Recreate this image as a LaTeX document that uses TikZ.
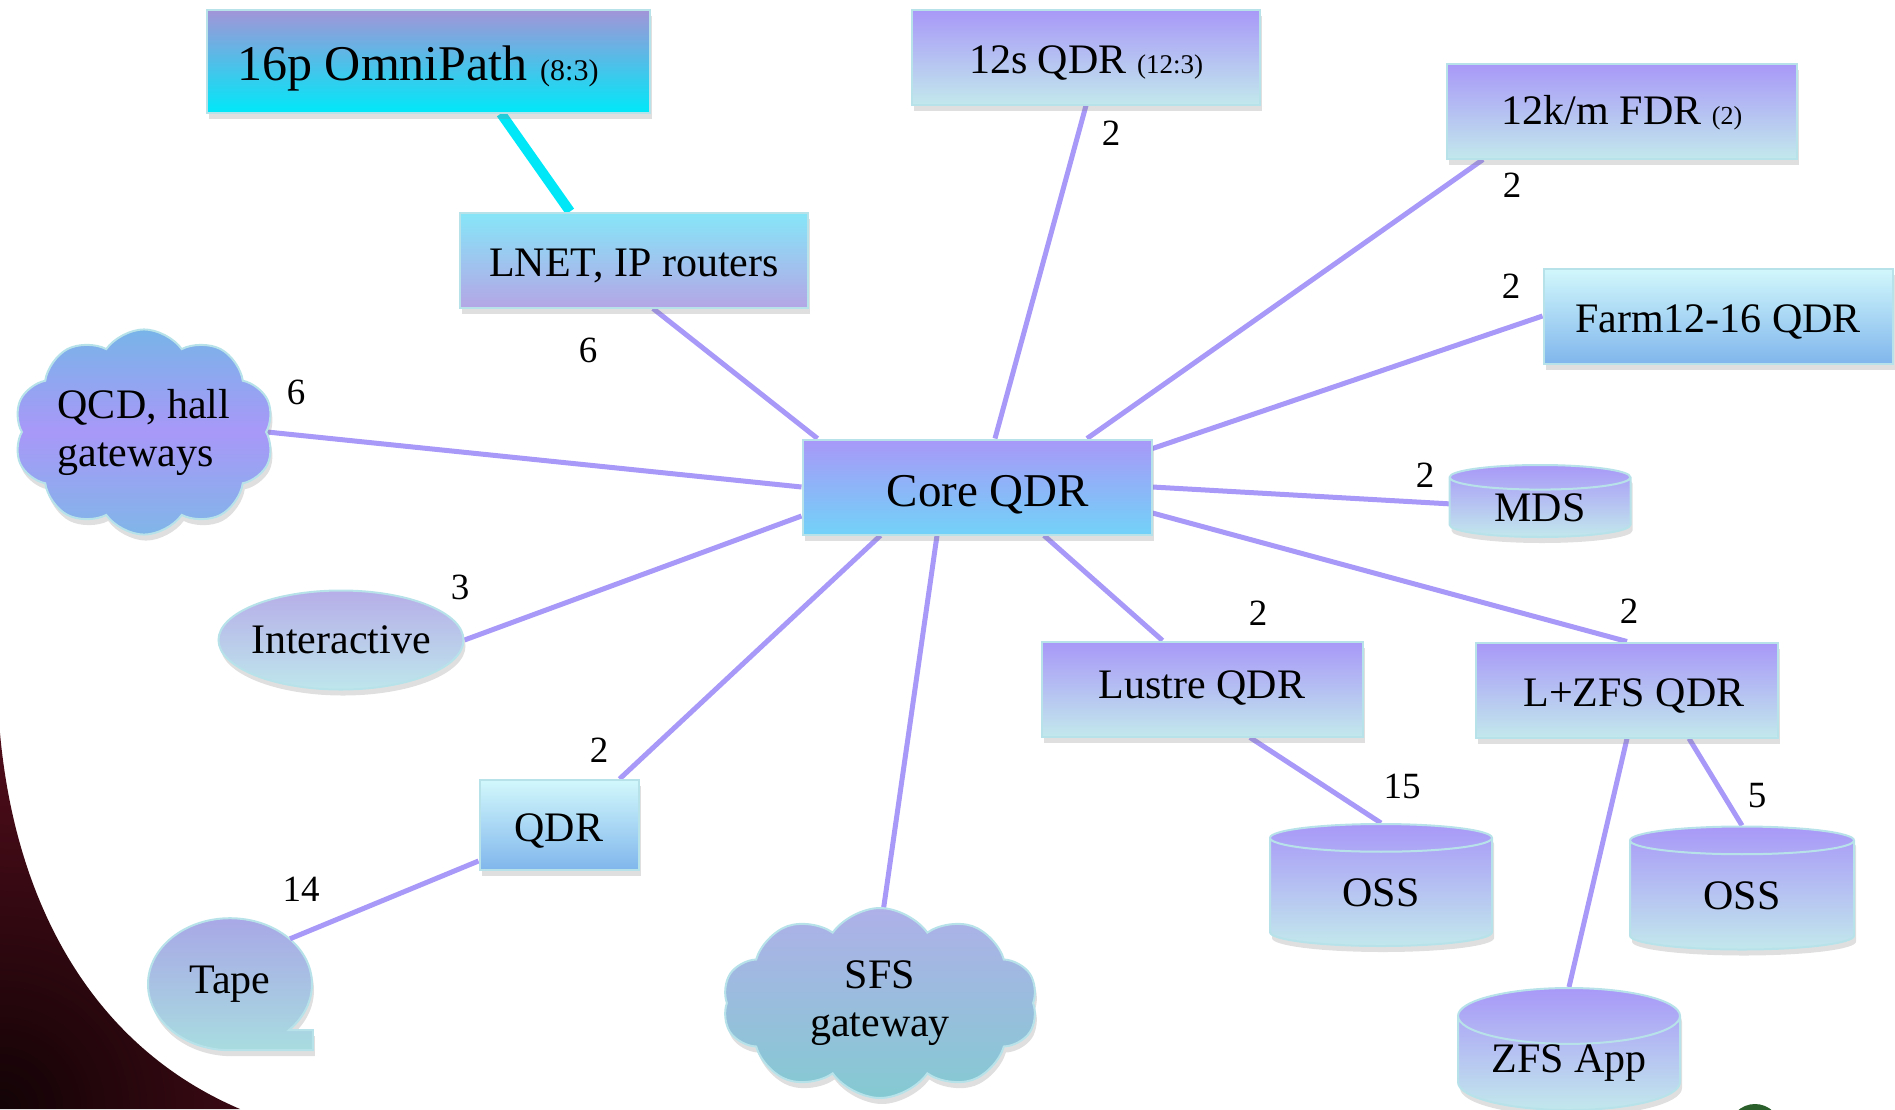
\documentclass[tikz,border=0pt]{standalone}
\usepackage{fontspec}
\setmainfont{Liberation Serif}
\usetikzlibrary{shapes.geometric,shapes.symbols,shadows,backgrounds}

\definecolor{lav}{HTML}{A898F8}
\definecolor{pale}{HTML}{C2E8EC}
\definecolor{sky}{HTML}{72D2F8}
\definecolor{edge}{HTML}{B8E2EA}
\definecolor{aqua}{HTML}{00E8F8}
\definecolor{mauve}{HTML}{A394D8}
\definecolor{ice}{HTML}{D2F8FC}
\definecolor{blu}{HTML}{80B6EC}
\definecolor{maroon}{HTML}{621020}
\definecolor{lnettop}{HTML}{86E6F8}
\definecolor{lnetbot}{HTML}{B4A6E6}
\definecolor{intertop}{HTML}{B6AEE8}
\definecolor{interbot}{HTML}{BEE6EC}
\definecolor{qcdtop}{HTML}{78B4E8}
\definecolor{qcdbot}{HTML}{80B6E8}
\definecolor{sfstop}{HTML}{AEB0E8}
\definecolor{sfsbot}{HTML}{84CAD2}
\definecolor{tapetop}{HTML}{A8A8E6}
\definecolor{tapebot}{HTML}{A8DCE0}
\definecolor{leaf}{HTML}{2A5E2A}
\definecolor{soot}{HTML}{120306}

\begin{document}
\begin{tikzpicture}[x=1pt,y=-1pt,
  every node/.style={font=\fontsize{42}{48}\selectfont},
  box/.style 2 args={rectangle,draw=edge,line width=2pt,top color=#1,bottom color=#2,
    minimum height=95pt,inner ysep=0pt,text height=33pt,text depth=0pt,
    drop shadow={opacity=.25,shadow xshift=2pt,shadow yshift=-6pt}},
  disk/.style={cylinder,shape border rotate=90,aspect=#1,draw=edge,line width=2pt,
    top color=lav,bottom color=pale,inner sep=0pt,anchor=shape center,
    drop shadow={opacity=.25,shadow xshift=2pt,shadow yshift=-6pt}},
  cloudy/.style={cloud,cloud puffs=10,cloud puff arc=110,draw=edge,line width=2pt,
    inner sep=0pt,drop shadow={opacity=.25,shadow xshift=2pt,shadow yshift=-6pt}},
  num/.style={font=\fontsize{37}{37}\selectfont},
  link/.style={draw=lav,line width=5pt},
  omnilink/.style={draw=aqua,line width=10pt}]
\useasboundingbox (0,0) rectangle (1895,1109);
\clip (0,0) rectangle (1895,1109);

% switches
\node[box={mauve}{aqua},minimum width=443pt,minimum height=103pt,text height=39pt,
  font=\fontsize{50}{55}\selectfont] (omni) at (428,61)
  {16p OmniPath {\fontsize{30}{30}\selectfont(8:3)}\hspace*{20pt}};
\node[box={lnettop}{lnetbot},minimum width=348pt] (lnet) at (634,260) {LNET, IP routers};
\node[box={lav}{pale},minimum width=348pt] (q12s) at (1086,57)
  {12s QDR {\fontsize{27}{27}\selectfont(12:3)}};
\node[box={lav}{pale},minimum width=350pt,text height=26pt] (fdr) at (1622,111)
  {12k/m FDR {\fontsize{26}{26}\selectfont(2)}};
\node[box={ice}{blu},minimum width=349pt] (farm) at (1718,316) {Farm12-16 QDR};
\node[box={lav}{sky},minimum width=349pt,text height=38pt,font=\fontsize{47}{52}\selectfont] (core) at (977,487)
  {\hspace*{22pt}Core QDR};
\node[box={lav}{pale},minimum width=321pt,text height=18pt] (lustre) at (1202,689) {Lustre QDR};
\node[box={lav}{pale},minimum width=302pt] (lzfs) at (1627,690) {\hspace*{14pt}L+ZFS QDR};
\node[box={ice}{blu},minimum width=159pt,minimum height=90pt] (qdr) at (559,825) {QDR};

% storage
\node[disk=.27,minimum width=181pt,minimum height=72pt] (mds) at (1540,501) {MDS};
\node[disk=.36,minimum width=222pt,minimum height=122pt] (ossa) at (1381,885) {OSS};
\node[disk=.36,minimum width=224pt,minimum height=123pt] (ossb) at (1742,888) {OSS};
\node[disk=.36,minimum width=222pt,minimum height=122pt] (zfs) at (1569,1049) {ZFS App};

% clients
\node[ellipse,draw=edge,line width=2pt,top color=intertop,bottom color=interbot,
  minimum width=245pt,minimum height=99pt,inner sep=0pt,inner xsep=-4pt,
  drop shadow={opacity=.25,shadow xshift=2pt,shadow yshift=-6pt}] (inter) at (341,640) {Interactive};
\node[cloudy,aspect=1.4,top color=qcdtop,bottom color=qcdbot,middle color=lav,
  minimum width=252pt,minimum height=185pt,align=left] (qcd) at (144,432) {QCD, hall\\gateways};
\node[cloudy,aspect=1.6,top color=sfstop,bottom color=sfsbot,
  minimum width=315pt,minimum height=190pt,align=center] (sfs) at (880,1003) {SFS\\gateway};
\node[ellipse,minimum width=164pt,minimum height=132pt,inner sep=0pt] (tape) at (230,984) {Tape};

% link counts
\node[num] (n1) at (588,350) {6};
\node[num] (n2) at (296,392) {6};
\node[num] (n3) at (1111,133) {2};
\node[num] (n4) at (1512,185) {2};
\node[num] (n5) at (1511,286) {2};
\node[num] (n6) at (1425,475) {2};
\node[num] (n7) at (460,587) {3};
\node[num] (n8) at (1258,613) {2};
\node[num] (n9) at (1629,611) {2};
\node[num] (n10) at (599,750) {2};
\node[num] (n11) at (1402,786) {15};
\node[num] (n12) at (1757,796) {5};
\node[num] (n13) at (301,889) {14};

\fill[leaf] (1755,1130) circle[radius=26];

\begin{scope}[on background layer]
\begin{scope}
\clip (0,733) .. controls (15,900) and (90,1045) .. (240,1109) -- (0,1109) -- cycle;
\shade[inner color=soot,outer color=maroon] (0,1109) circle[radius=480];
\end{scope}
\shadedraw[draw=edge,line width=2pt,top color=tapetop,bottom color=tapebot,
  drop shadow={opacity=.25,shadow xshift=2pt,shadow yshift=-6pt}]
  (tape.south) arc[start angle=90,end angle=404,x radius=82,y radius=66]
  -- ++(24,0) -- ++(0,20) -- cycle;
\draw[omnilink] ([xshift=73pt]omni.south) -- ([xshift=-64pt]lnet.north);
\draw[link] ([xshift=19pt]lnet.south) -- ([xshift=16pt]core.north west);
\draw[link] (q12s.south) -- ([xshift=18pt]core.north);
\draw[link] ([xshift=37pt]fdr.south west) -- ([xshift=110pt]core.north);
\draw[link] (farm.west) -- ([yshift=-10pt]core.north east);
\draw[link] (core.east) -- ([yshift=-8pt]mds.shape center);
\draw[link] ([yshift=-26pt]core.east) -- (lzfs.north);
\draw[link] ([xshift=67pt]core.south) -- ([xshift=122pt]lustre.north west);
\draw[link] ([xshift=-40pt]core.south) -- ([xshift=-10pt]sfs.center);
\draw[link] ([xshift=79pt]core.south west) -- ([xshift=-20pt]qdr.north east);
\draw[link] ([yshift=-29pt]core.west) -- (inter.east);
\draw[link] (core.west) -- (qcd.east);
\draw[link] (tape.37) -- ([yshift=10pt]qdr.south west);
\draw[link] ([xshift=48pt]lustre.south) -- (ossa.north);
\draw[link] ([xshift=62pt]lzfs.south) -- (ossb.north);
\draw[link] (lzfs.south) -- (zfs.north);
\end{scope}
\end{tikzpicture}
\end{document}
